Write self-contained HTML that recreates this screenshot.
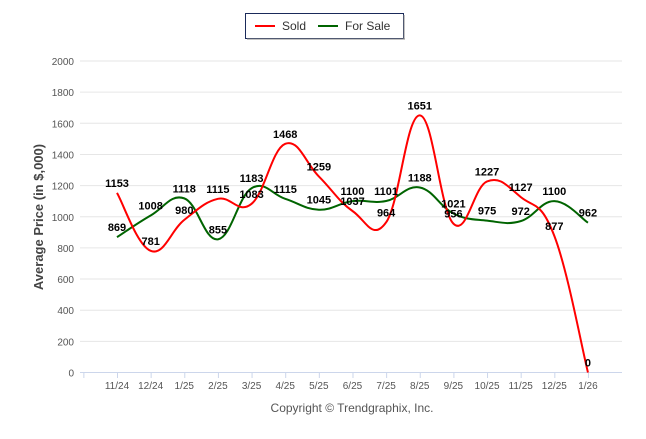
<!DOCTYPE html>
<html><head><meta charset="utf-8"><style>
body{margin:0;background:#fff;font-family:"Liberation Sans",Arial,sans-serif}
svg text{font-family:"Liberation Sans",Arial,sans-serif}
</style></head><body>
<svg id="c" width="646" height="434" xmlns="http://www.w3.org/2000/svg">
<g>
<rect x="245.5" y="13.5" width="158" height="25" fill="#fff" stroke="#1a2a5a" stroke-width="1"/>
<rect x="247" y="38" width="158" height="2" fill="#888" opacity="0.5"/>
<rect x="403" y="15" width="2" height="24" fill="#888" opacity="0.5"/>
<line x1="255" y1="26" x2="275" y2="26" stroke="#ff0000" stroke-width="2"/>
<text x="282" y="30" font-size="12" fill="#333">Sold</text>
<line x1="318" y1="26" x2="338" y2="26" stroke="#006400" stroke-width="2"/>
<text x="345" y="30" font-size="12" fill="#333">For Sale</text>
</g>
<g id="grid"></g><g id="axes"></g><g id="series"></g><g id="labels"></g>
<text x="0" y="0" transform="translate(43,217) rotate(-90)" text-anchor="middle" font-size="13" font-weight="bold" fill="#444">Average Price (in $,000)</text>
<text x="352" y="412" text-anchor="middle" font-size="12" fill="#555">Copyright © Trendgraphix, Inc.</text>
</svg>
<script>
const categories=["11/24","12/24","1/25","2/25","3/25","4/25","5/25","6/25","7/25","8/25","9/25","10/25","11/25","12/25","1/26"];
const soldValues=[1153,781,980,1115,1083,1468,1259,1037,964,1651,956,1227,1127,877,0];
const forSaleValues=[869,1008,1118,855,1183,1115,1045,1100,1101,1188,1021,975,972,1100,962];
const yTicks=[0,200,400,600,800,1000,1200,1400,1600,1800,2000];
const NS="http://www.w3.org/2000/svg";
const x=i=>117+33.64*i;
const y=v=>372.5-v*(311.5/2000);
function mk(t,a,p){const e=document.createElementNS(NS,t);for(const k in a)e.setAttribute(k,a[k]);document.getElementById(p).appendChild(e);return e;}
yTicks.forEach(v=>{
 const g=mk('line',{x1:80,x2:622,y1:y(v),y2:y(v),stroke:v===0?'#ccd6eb':'#e6e6e6','stroke-width':1},'grid');
 
 
 const t=mk('text',{x:74,y:y(v)+4,'text-anchor':'end','font-size':10,fill:'#555'},'axes');t.textContent=v;
 
 
});
for(let i=-1;i<categories.length;i++){
 const tk=mk('line',{x1:x(i)+0.5,x2:x(i)+0.5,y1:372.5,y2:378,stroke:'#ccd6eb'},'axes');
 
 
}
categories.forEach((c,i)=>{
 const t=mk('text',{x:x(i),y:389,'text-anchor':'middle','font-size':10,fill:'#555'},'axes');t.textContent=c;
 
 
});
function spline(vals){
 const p=vals.map((v,i)=>[x(i),y(v)]);const k=1/5;
 let path='M'+p[0][0]+','+p[0][1];
 for(let i=0;i<p.length-1;i++){
  const a=p[Math.max(i-1,0)],b=p[i],c=p[i+1],d=p[Math.min(i+2,p.length-1)];
  const c1=[b[0]+(c[0]-a[0])*k,b[1]+(c[1]-a[1])*k];
  const c2=[c[0]-(d[0]-b[0])*k,c[1]-(d[1]-b[1])*k];
  path+=` C${c1[0]},${c1[1]} ${c2[0]},${c2[1]} ${c[0]},${c[1]}`;}
 return path;}
const ls=mk('path',{d:spline(forSaleValues),fill:'none',stroke:'#006400','stroke-width':2},'series');


const lr=mk('path',{d:spline(soldValues),fill:'none',stroke:'#ff0000','stroke-width':2},'series');


function labels(vals,name){vals.forEach((v,i)=>{
 const t=mk('text',{x:x(i),y:y(v)-6,'text-anchor':'middle','font-size':11,'font-weight':'bold',fill:'#000'},'labels');t.textContent=v;
 
 });}
labels(forSaleValues,'forsale-value-label');
labels(soldValues,'sold-value-label');
</script>
</body></html>
